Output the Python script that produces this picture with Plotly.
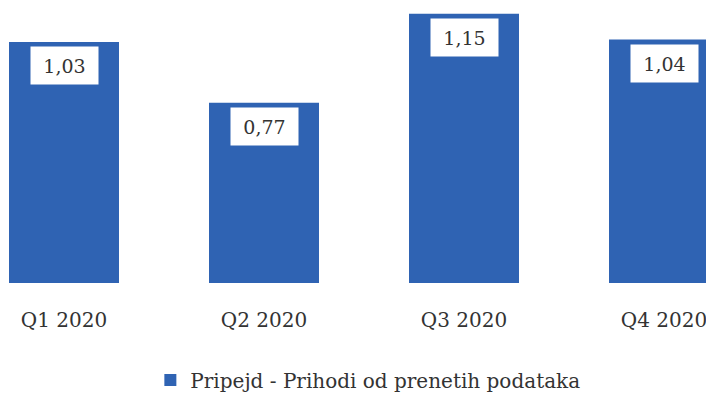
import plotly.graph_objects as go

kvartali = ["Q1 2020", "Q2 2020", "Q3 2020", "Q4 2020"]
prihodi = [1.03, 0.77, 1.15, 1.04]
oznake = ["1,03", "0,77", "1,15", "1,04"]
serija = "Pripejd - Prihodi od prenetih podataka"

plava = "#2F63B3"
font_serif = "DejaVu Serif"

fig = go.Figure()
fig.add_trace(go.Bar(
    x=kvartali,
    y=prihodi,
    name=serija,
    marker=dict(color=plava, line=dict(width=0)),
    width=0.55,
    showlegend=True,
))

# bele kucice sa vrednostima na vrhu stubova
for k, v, t in zip(kvartali, prihodi, oznake):
    fig.add_annotation(
        x=k, y=v, text=t, showarrow=False,
        yanchor="top", yshift=-4,
        width=55, height=25,
        bgcolor="white", borderpad=6,
        font=dict(family=font_serif, size=19, color="#333333"),
    )

# stranica ima 8px margine body-ja, pa se opsezi pomeraju
fig.update_layout(
    width=714, height=394,
    margin=dict(l=0, r=0, t=0, b=119),
    paper_bgcolor="white", plot_bgcolor="white",
    xaxis=dict(
        range=[-0.28, 3.29],
        showgrid=False, zeroline=False, showline=False,
        tickfont=dict(family=font_serif, size=20, color="#333333"),
        ticklabelstandoff=23,
    ),
    yaxis=dict(range=[0, 1.175], visible=False),
    legend=dict(
        orientation="h", x=0.504, xanchor="center",
        y=-0.353, yanchor="middle",
        font=dict(family=font_serif, size=20, color="#333333"),
        itemwidth=30,
    ),
)

fig.write_html("out.html")
